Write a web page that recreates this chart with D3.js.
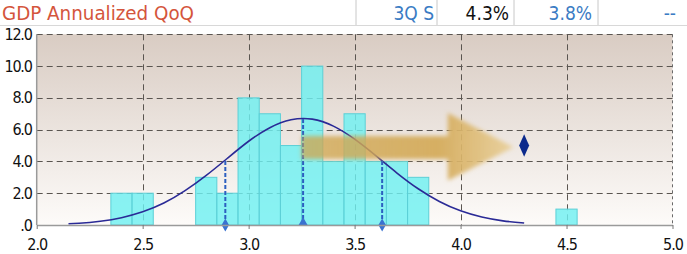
<!DOCTYPE html>
<html lang="en">
<head>
<meta charset="UTF-8">
<title>GDP Annualized QoQ - survey distribution</title>
<script src="https://d3js.org/d3.v7.min.js"></script>
<style>
  body { margin: 0; background: #fff; }
  svg text { font-family: "DejaVu Sans Condensed", "DejaVu Sans", sans-serif; }
</style>
</head>
<body>
<script>
// survey histogram (bin start, count), bin width 0.1
const binStarts = [2.35, 2.45, 2.75, 2.85, 2.95, 3.05, 3.15, 3.25, 3.35, 3.45, 3.55, 3.65, 3.75, 4.45];
const binCounts = [2, 2, 3, 2, 8, 7, 5, 10, 4, 7, 4, 4, 3, 1];
const binWidth = 0.1;

// fitted curve
const curveX = [2.15, 2.2, 2.3, 2.4, 2.5, 2.6, 2.7, 2.8, 2.9, 3.0, 3.1, 3.2, 3.3, 3.4, 3.5, 3.6, 3.7, 3.8, 3.9, 4.0, 4.1, 4.2, 4.3];
const curveY = [0.08, 0.11, 0.24, 0.46, 0.83, 1.38, 2.16, 3.12, 4.2, 5.27, 6.12, 6.62, 6.66, 6.22, 5.4, 4.36, 3.27, 2.28, 1.48, 0.89, 0.5, 0.26, 0.13];

// -1 sd, median, +1 sd
const statX = [2.89, 3.257, 3.63];
const statTop = [4.1, 6.68, 4.1];
const statShape = ['diamond', 'triangle', 'diamond'];

// actual release
const actualX = 4.3;
const actualY = 5.0;

const xTicks = [2.0, 2.5, 3.0, 3.5, 4.0, 4.5, 5.0];
const yTicks = [0, 2, 4, 6, 8, 10, 12];

const headLabels = ['3Q S', '4.3%', '3.8%', '--'];
const headColors = ['#3b7cc4', '#111', '#3b7cc4', '#3b7cc4'];

const W = 687, H = 254;
const svg = d3.select('body').append('svg').attr('width', W).attr('height', H);

// header row
svg.append('text').attr('x', 2).attr('y', 20)
  .attr('font-size', 19).attr('fill', '#d4553c')
  .attr('textLength', 192).attr('lengthAdjust', 'spacingAndGlyphs')
  .text('GDP Annualized QoQ');
const headRight = [434, 509, 592, 676];
headLabels.forEach((t, i) => {
  svg.append('text').attr('x', headRight[i]).attr('y', 20)
    .attr('text-anchor', 'end').attr('font-size', 19).attr('fill', headColors[i])
    .text(t);
});
[356, 437, 514, 598].forEach(px => {
  svg.append('line').attr('x1', px).attr('x2', px).attr('y1', 0).attr('y2', 25)
    .attr('stroke', '#c8c8c8');
});
svg.append('line').attr('x1', 0).attr('x2', W).attr('y1', 25.5).attr('y2', 25.5)
  .attr('stroke', '#d8d8d8');

const x = d3.scaleLinear().domain([2, 5]).range([36.7, 672.5]);
const y = d3.scaleLinear().domain([0, 12]).range([225, 34.3]);

const defs = svg.append('defs');
const bg = defs.append('linearGradient').attr('id', 'bg').attr('x1', 0).attr('x2', 0).attr('y1', 0).attr('y2', 1);
bg.append('stop').attr('offset', '0%').attr('stop-color', '#d9ccc3');
bg.append('stop').attr('offset', '100%').attr('stop-color', '#fdfbf9');

const ag = defs.append('linearGradient').attr('id', 'arrowFill').attr('x1', 0).attr('x2', 1).attr('y1', 0).attr('y2', 0);
ag.append('stop').attr('offset', '0%').attr('stop-color', '#cfa54e').attr('stop-opacity', 0.75);
ag.append('stop').attr('offset', '65%').attr('stop-color', '#d4aa58').attr('stop-opacity', 0.92);
ag.append('stop').attr('offset', '100%').attr('stop-color', '#e9cf98').attr('stop-opacity', 0.9);
defs.append('filter').attr('id', 'soft').attr('x', '-10%').attr('y', '-30%').attr('width', '120%').attr('height', '160%')
  .append('feGaussianBlur').attr('stdDeviation', 2);

svg.append('rect')
  .attr('x', x(2)).attr('y', y(12)).attr('width', x(5) - x(2)).attr('height', y(0) - y(12))
  .attr('fill', 'url(#bg)');

// grid
const grid = svg.append('g').attr('stroke', '#5a5550').attr('stroke-width', 1).attr('stroke-dasharray', '6,4');
grid.selectAll('.hg').data(yTicks.filter(d => d > 0)).join('line')
  .attr('x1', x(2)).attr('x2', x(5)).attr('y1', d => Math.round(y(d)) + 0.5).attr('y2', d => Math.round(y(d)) + 0.5);
grid.selectAll('.vg').data(xTicks.filter(d => d > 2 && d < 5)).join('line')
  .attr('y1', y(12)).attr('y2', y(0)).attr('x1', d => Math.round(x(d)) + 0.5).attr('x2', d => Math.round(x(d)) + 0.5);

// bars
svg.append('g').selectAll('rect').data(binStarts).join('rect')
  .attr('x', d => x(d)).attr('width', x(binWidth) - x(0))
  .attr('y', (d, i) => y(binCounts[i])).attr('height', (d, i) => y(0) - y(binCounts[i]))
  .attr('fill', '#6ff0f2').attr('fill-opacity', 0.82)
  .attr('stroke', '#5ccfd6').attr('stroke-width', 1);

// curve
const pts = curveX.map((v, i) => [v, curveY[i]]);
svg.append('path').datum(pts)
  .attr('d', d3.line().x(d => x(d[0])).y(d => y(d[1])).curve(d3.curveNatural))
  .attr('fill', 'none').attr('stroke', '#2a2a96').attr('stroke-width', 1.6);

// stat lines and markers
statX.forEach((v, i) => {
  svg.append('line').attr('x1', x(v)).attr('x2', x(v)).attr('y1', y(0)).attr('y2', y(statTop[i]))
    .attr('stroke', '#2c5fc0').attr('stroke-width', 2).attr('stroke-dasharray', '4,2');
  const sym = statShape[i] === 'diamond' ? d3.symbolDiamond : d3.symbolTriangle;
  svg.append('path').attr('d', d3.symbol().type(sym).size(statShape[i] === 'diamond' ? 48 : 44)())
    .attr('transform', `translate(${x(v)},${y(0) - (statShape[i] === 'diamond' ? 0 : 2)})`)
    .attr('fill', '#3a72d0');
});

// axes frame
svg.append('line').attr('x1', x(2)).attr('x2', x(2)).attr('y1', y(12)).attr('y2', y(0))
  .attr('stroke', '#9a9a9a').attr('stroke-width', 1.5);
svg.append('line').attr('x1', x(5)).attr('x2', x(5)).attr('y1', y(12)).attr('y2', y(0))
  .attr('stroke', '#6a6a6a').attr('stroke-dasharray', '3,3');

const xAxis = svg.append('g').attr('transform', `translate(0,${y(0)})`)
  .call(d3.axisBottom(x).tickValues(xTicks).tickSize(4).tickSizeOuter(0).tickFormat(d3.format('.1f')));
xAxis.select('.domain').attr('stroke', '#9a9a9a').attr('stroke-width', 1.5);
xAxis.selectAll('.tick line').attr('stroke', '#777');
xAxis.selectAll('.tick text').attr('font-size', 16).attr('fill', '#111').attr('dy', 0).attr('y', 25)
  .attr('font-family', '"DejaVu Sans Condensed", sans-serif').attr('letter-spacing', -1);

const yAxis = svg.append('g').attr('transform', `translate(${x(2)},0)`)
  .call(d3.axisLeft(y).tickValues(yTicks).tickSize(0).tickFormat(d => d === 0 ? '.0' : d3.format('.1f')(d)));
yAxis.select('.domain').remove();
yAxis.selectAll('.tick text').attr('font-size', 16).attr('fill', '#111').attr('x', -5)
  .attr('font-family', '"DejaVu Sans Condensed", sans-serif').attr('letter-spacing', -1.2);

// arrow from median to actual
const shaftL = x(3.25), headB = x(3.94), tip = x(4.25);
const arrowPts = [
  [shaftL, y(5.6)], [headB, y(5.6)], [headB, y(7.05)], [tip, y(4.9)],
  [headB, y(2.8)], [headB, y(4.15)], [shaftL, y(4.15)]
];
svg.append('path').attr('d', d3.line()(arrowPts) + 'Z')
  .attr('fill', 'url(#arrowFill)').attr('filter', 'url(#soft)');

// actual marker
svg.append('path').attr('d', d3.symbol().type(d3.symbolDiamond).size(120)())
  .attr('transform', `translate(${x(actualX)},${y(actualY)}) scale(0.85,1.1)`)
  .attr('fill', '#0c2a8c');
</script>
</body>
</html>
